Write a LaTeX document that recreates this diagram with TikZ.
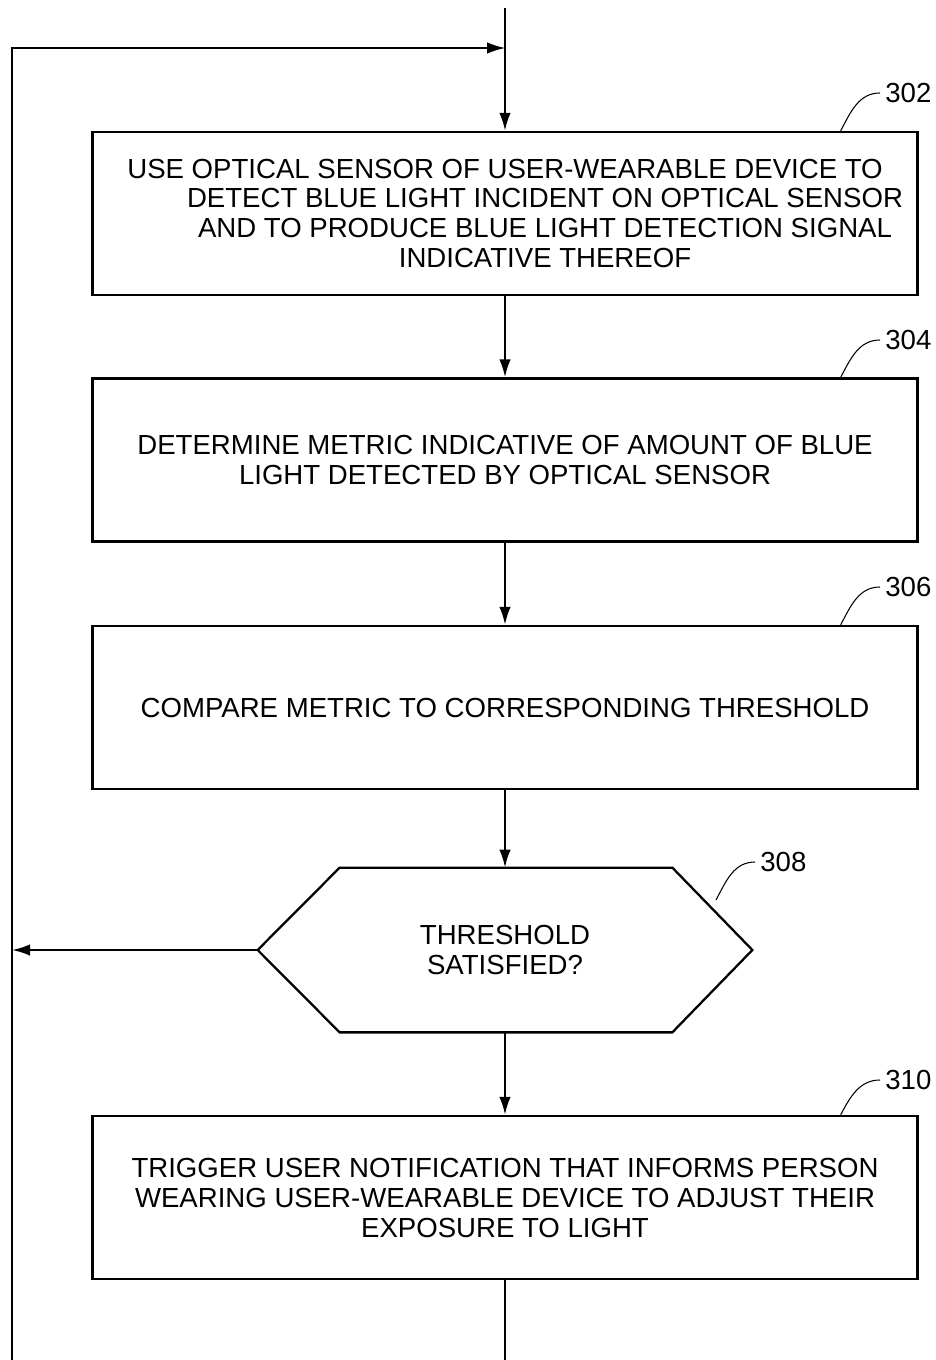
\documentclass[tikz,border=0pt]{standalone}
\usepackage{fontspec}
\setmainfont{Liberation Sans}
\usetikzlibrary{arrows.meta}
\begin{document}
\begin{tikzpicture}[font=\fontsize{15.7}{17.07}\selectfont,
    stepbox/.style={draw, line width=1.3pt, minimum width=16.5cm, minimum height=3.26cm, align=center, inner sep=0pt},
    reflabel/.style={anchor=west, inner sep=0pt},
    flow/.style={line width=1.3pt, -{Latex[length=3.6mm,width=2.3mm]}},
    leader/.style={line width=0.6pt}]
  \useasboundingbox (0,0) rectangle (18.7,-27.2);
  \node[stepbox] (b302) at (10.1,-4.27) {USE OPTICAL SENSOR OF USER-WEARABLE DEVICE TO\\\hspace*{1.6cm}DETECT BLUE LIGHT INCIDENT ON OPTICAL SENSOR\\\hspace*{1.6cm}AND TO PRODUCE BLUE LIGHT DETECTION SIGNAL\\\hspace*{1.6cm}INDICATIVE THEREOF};
  \node[stepbox] (b304) at (10.1,-9.2) {DETERMINE METRIC INDICATIVE OF AMOUNT OF BLUE\\LIGHT DETECTED BY OPTICAL SENSOR};
  \node[stepbox] (b306) at (10.1,-14.15) {COMPARE METRIC TO CORRESPONDING THRESHOLD};
  \node[minimum width=9.88cm, minimum height=3.28cm, align=center, inner sep=0pt] (d308) at (10.1,-19.0) {THRESHOLD\\SATISFIED?};
  \draw[line width=1.3pt] (d308.west) -- ([xshift=1.64cm]d308.north west) -- ([xshift=-1.6cm]d308.north east) -- (d308.east) -- ([xshift=-1.6cm]d308.south east) -- ([xshift=1.64cm]d308.south west) -- cycle;
  \node[stepbox] (b310) at (10.1,-23.95) {TRIGGER USER NOTIFICATION THAT INFORMS PERSON\\WEARING USER-WEARABLE DEVICE TO ADJUST THEIR\\EXPOSURE TO LIGHT};

  \coordinate (top) at (10.1,-0.16);
  \coordinate (bot) at (10.1,-27.2);
  \coordinate (lb) at (0.24,-27.2);
  \coordinate (lt) at (0.24,-0.96);
  \coordinate (lm) at (0.24,-19.0);
  \coordinate (merge) at (10.1,-0.96);

  \draw[flow] (top) -- (b302);
  \draw[flow] (b302) -- (b304);
  \draw[flow] (b304) -- (b306);
  \draw[flow] (b306) -- (d308);
  \draw[flow] (d308) -- (b310);
  \draw[line width=1.3pt] (b310) -- (bot);
  \draw[flow] (d308.west) -- (lm);
  \draw[line width=0.8pt, -{Latex[length=3.6mm,width=2.3mm]}] (lb) -- (lt) -- (merge);

  \node[reflabel] (l302) at (17.7,-1.86) {302};
  \node[reflabel] (l304) at (17.7,-6.8) {304};
  \node[reflabel] (l306) at (17.7,-11.74) {306};
  \node[reflabel] (l308) at (15.2,-17.24) {308};
  \node[reflabel] (l310) at (17.7,-21.6) {310};
  \draw[leader] ([xshift=-1.56cm]b302.north east) to[out=62,in=180] ([xshift=-0.1cm]l302.west);
  \draw[leader] ([xshift=-1.56cm]b304.north east) to[out=62,in=180] ([xshift=-0.1cm]l304.west);
  \draw[leader] ([xshift=-1.56cm]b306.north east) to[out=62,in=180] ([xshift=-0.1cm]l306.west);
  \draw[leader] (14.32,-18.0) to[out=62,in=180] ([xshift=-0.1cm]l308.west);
  \draw[leader] ([xshift=-1.56cm]b310.north east) to[out=62,in=180] ([xshift=-0.1cm]l310.west);
\end{tikzpicture}
\end{document}
